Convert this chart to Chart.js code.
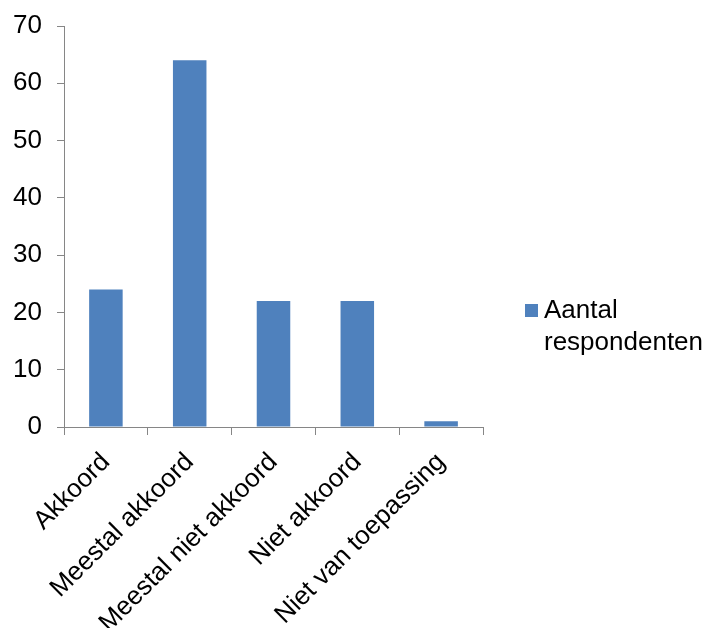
<!DOCTYPE html>
<html>
<head>
<meta charset="utf-8">
<script src="https://cdn.jsdelivr.net/npm/chart.js@4"></script>
<style>
html,body{margin:0;padding:0;background:#fff;}
canvas{display:block;}
</style>
</head>
<body>
<canvas id="c" width="709" height="628"></canvas>
<script>
const categories = ["Akkoord", "Meestal akkoord", "Meestal niet akkoord", "Niet akkoord", "Niet van toepassing"];
const seriesName = "Aantal respondenten";
const legendLines = ["Aantal", "respondenten"];
const values = [24, 64, 22, 22, 1];
const yTicks = [0, 10, 20, 30, 40, 50, 60, 70];

const FONT = "'Liberation Sans', Arial, sans-serif";
const AXIS = "#868686";
const BAR = "#4F81BD";

const legendPlugin = {
  id: 'customLegend',
  afterDraw(chart) {
    const ctx = chart.ctx;
    ctx.save();
    ctx.fillStyle = BAR;
    ctx.fillRect(525, 304, 13, 13);
    ctx.fillStyle = "#000";
    ctx.font = "26px " + FONT;
    ctx.textBaseline = "alphabetic";
    ctx.textAlign = "left";
    ctx.fillText(legendLines[0], 544, 318);
    ctx.fillText(legendLines[1], 544, 350);
    ctx.restore();
  }
};

new Chart(document.getElementById('c'), {
  type: 'bar',
  data: {
    labels: categories,
    datasets: [{
      label: seriesName,
      data: values,
      backgroundColor: BAR,
      borderWidth: 0,
      categoryPercentage: 1.0,
      barPercentage: 0.4
    }]
  },
  options: {
    responsive: false,
    animation: false,
    devicePixelRatio: 1,
    layout: { padding: { top: 26, right: 226, left: 0, bottom: 0 } },
    plugins: { legend: { display: false }, tooltip: { enabled: false } },
    scales: {
      x: {
        grid: { display: true, drawOnChartArea: false, drawTicks: true, tickLength: 8, color: AXIS, lineWidth: 1, offset: true },
        border: { display: true, color: AXIS, width: 1 },
        ticks: { color: "#000", font: { family: FONT, size: 26 }, minRotation: 45, maxRotation: 45, autoSkip: false, padding: 12 },
        afterFit(scale) { scale.height = 628 - 427; }
      },
      y: {
        min: 0, max: 70,
        afterBuildTicks(scale) { scale.ticks = yTicks.map(v => ({ value: v })); },
        grid: { display: true, drawOnChartArea: false, drawTicks: true, tickLength: 7, color: AXIS, lineWidth: 1 },
        border: { display: true, color: AXIS, width: 1 },
        ticks: { color: "#000", font: { family: FONT, size: 26 }, padding: 15 },
        afterFit(scale) { scale.width = 64; scale.paddingTop = 0; scale.paddingBottom = 0; }
      }
    }
  },
  plugins: [legendPlugin]
});
</script>
</body>
</html>
